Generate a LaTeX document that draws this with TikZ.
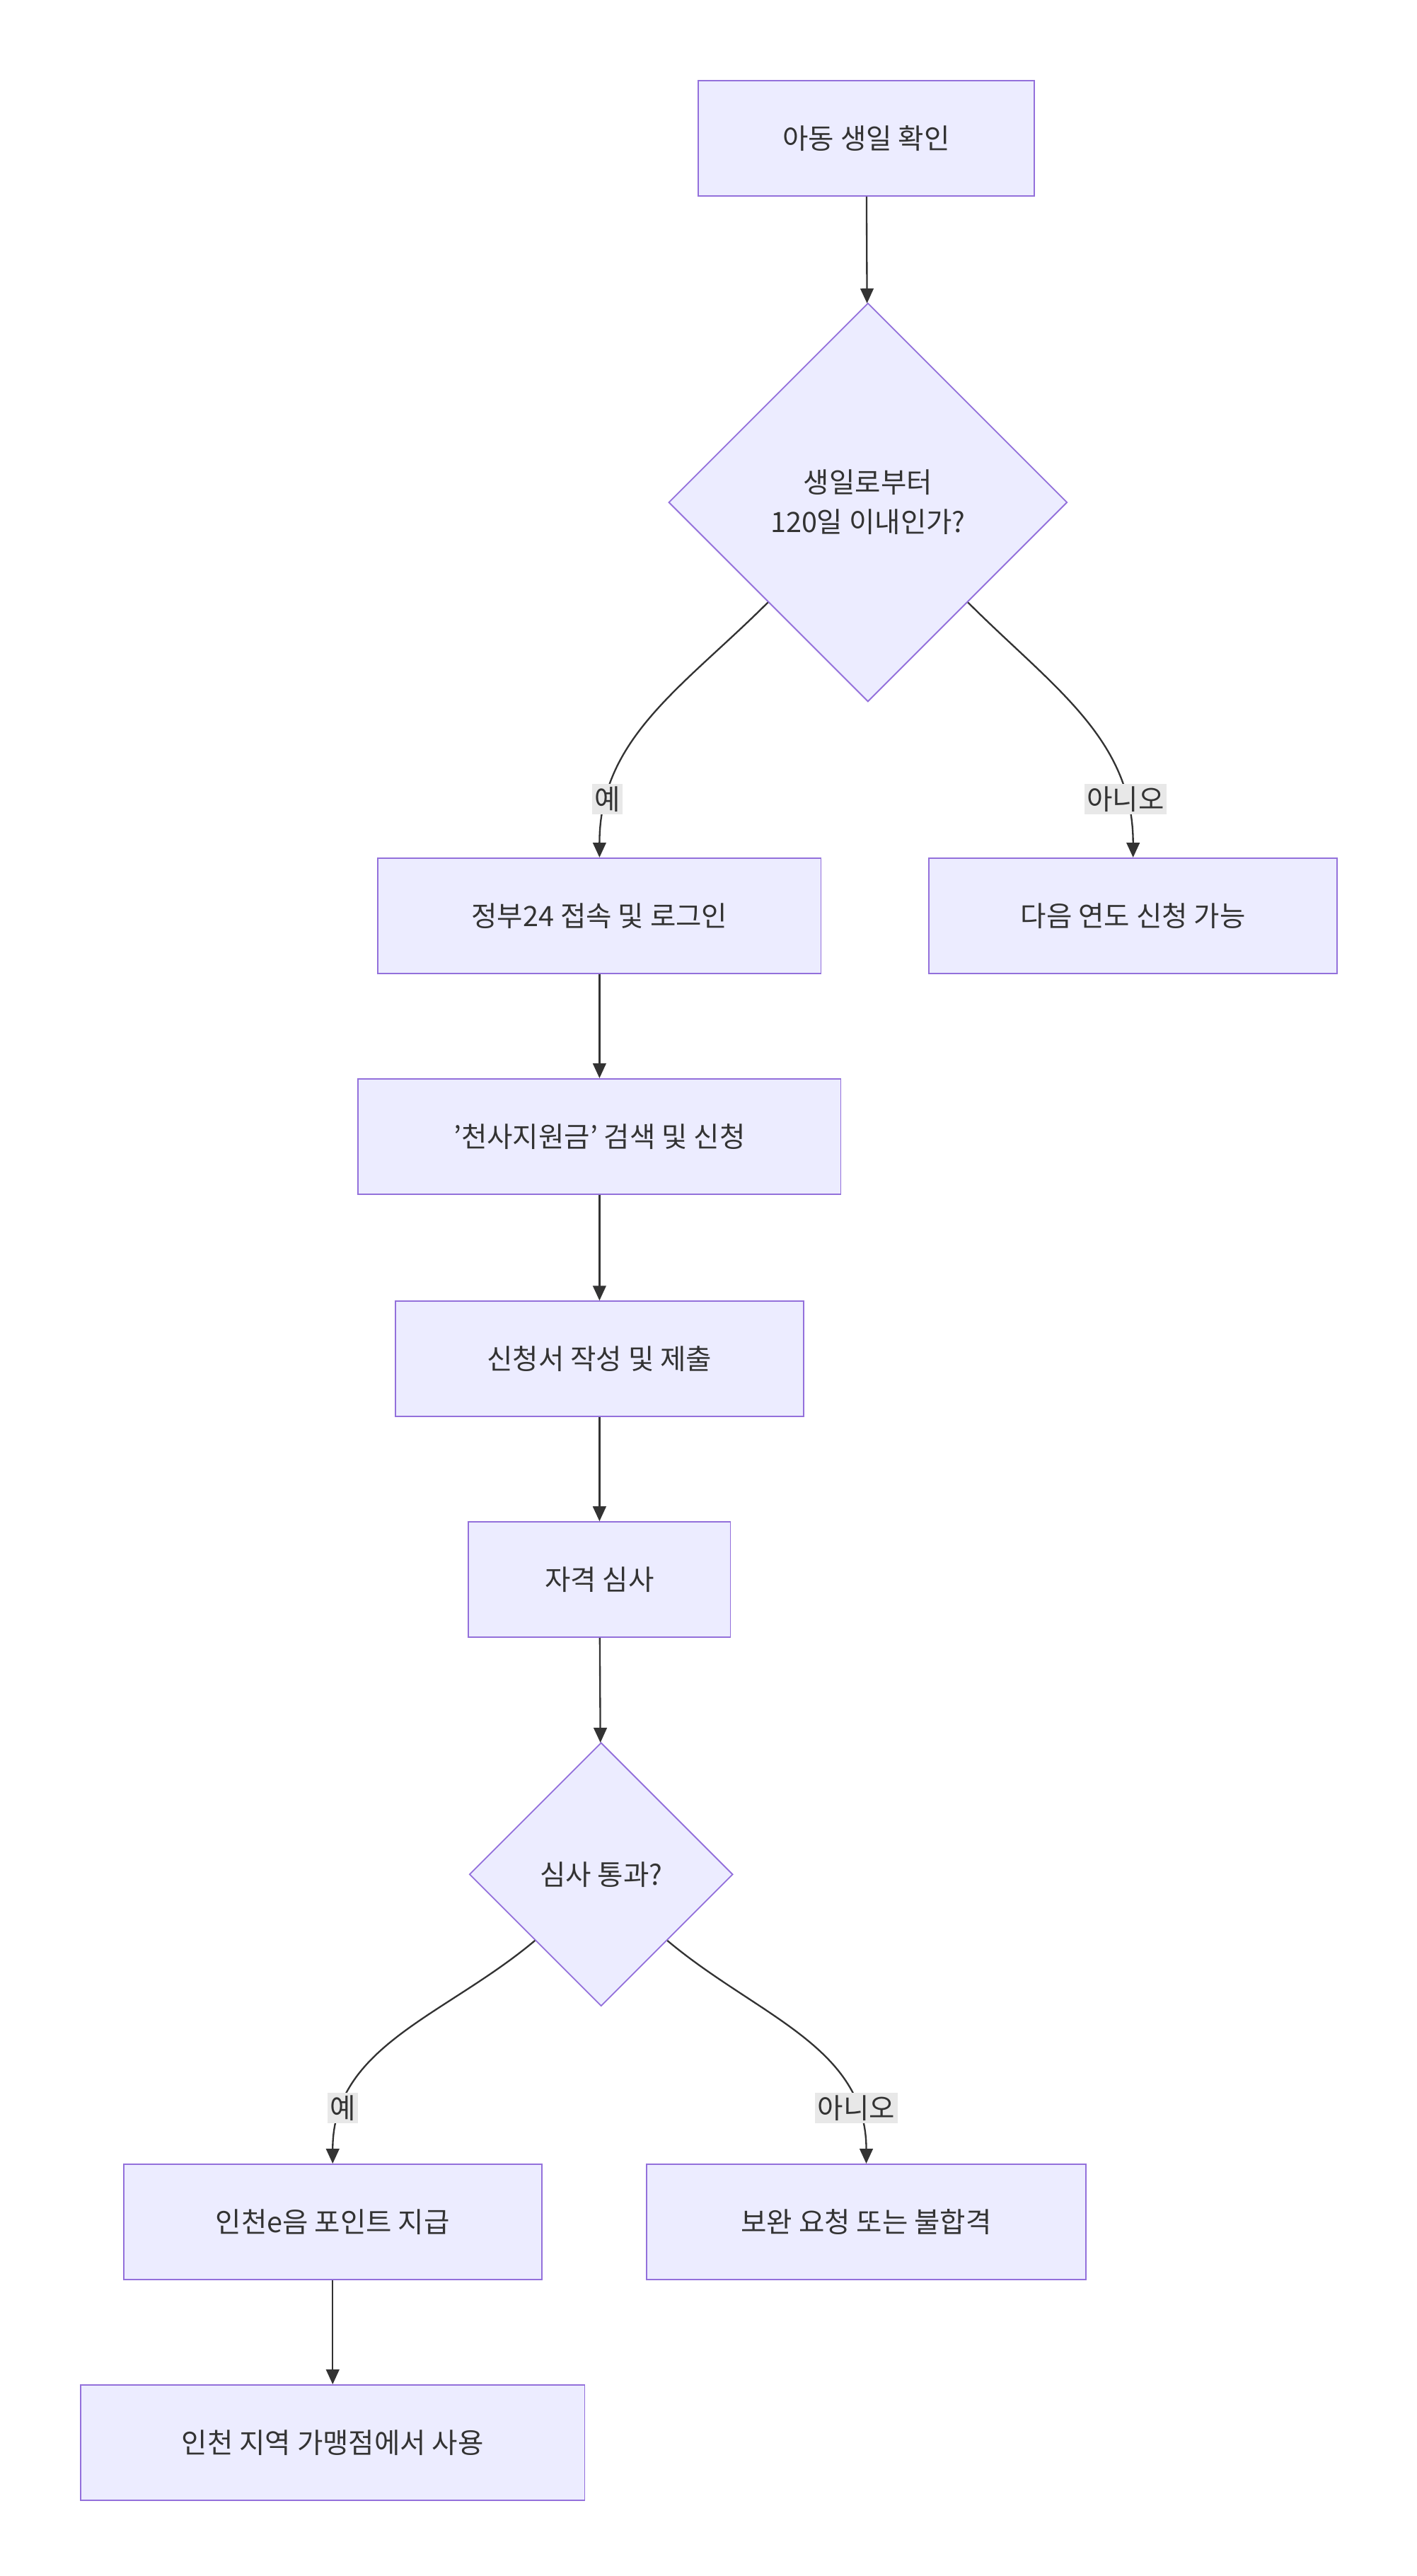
\documentclass[tikz,border=0pt]{standalone}
\usepackage{fontspec}
\setmainfont{Noto Sans CJK KR}
\usetikzlibrary{shapes.geometric,arrows.meta}
\definecolor{boxfill}{HTML}{ECECFF}
\definecolor{boxline}{HTML}{9370DB}
\definecolor{arrline}{HTML}{333333}
\definecolor{lblfill}{HTML}{E8E8E8}
\begin{document}
\begin{tikzpicture}[x=1pt,y=1pt,
  box/.style={draw=boxline,fill=boxfill,line width=0.8pt,minimum height=70pt,inner sep=0pt,font=\fontsize{17}{22}\selectfont,text=arrline},
  dia/.style={diamond,draw=boxline,fill=boxfill,line width=0.8pt,inner sep=0pt,align=center,font=\fontsize{17}{24}\selectfont,text=arrline},
  arr/.style={draw=arrline,line width=1pt,-{Triangle[length=9pt,width=8pt]}},
  lbl/.style={fill=lblfill,inner sep=1.5pt,font=\fontsize{17}{22}\selectfont,text=arrline}]
\useasboundingbox (0,0) rectangle (860,-1564);

% Nodes
\node[box,minimum width=204pt] (check) at (526,-84) {아동 생일 확인};
\node[dia,minimum width=242pt,minimum height=242pt] (within) at (527,-305) {생일로부터\\120일 이내인가?};
\node[box,minimum width=269pt] (login) at (364,-556) {정부24 접속 및 로그인};
\node[box,minimum width=248pt] (nextyear) at (688,-556) {다음 연도 신청 가능};
\node[box,minimum width=293pt] (search) at (364,-690) {'천사지원금' 검색 및 신청};
\node[box,minimum width=248pt] (form) at (364,-825) {신청서 작성 및 제출};
\node[box,minimum width=159pt] (review) at (364,-959) {자격 심사};
\node[dia,minimum width=160pt,minimum height=160pt] (pass) at (365,-1138) {심사 통과?};
\node[box,minimum width=254pt] (points) at (202,-1349) {인천e음 포인트 지급};
\node[box,minimum width=267pt] (reject) at (526,-1349) {보완 요청 또는 불합격};
\node[box,minimum width=306pt] (use) at (202,-1483) {인천 지역 가맹점에서 사용};

% Connectors
\draw[arr] (check) -- (within);
\draw[arr] (within.south west) to[out=-135,in=90] node[lbl,pos=0.82]{예} (login.north);
\draw[arr] (within.south east) to[out=-45,in=90] node[lbl,pos=0.82]{아니오} (nextyear.north);
\draw[arr] (login) -- (search);
\draw[arr] (search) -- (form);
\draw[arr] (form) -- (review);
\draw[arr] (review) -- (pass);
\draw[arr] (pass.south west) to[out=-140,in=90] node[lbl,pos=0.82]{예} (points.north);
\draw[arr] (pass.south east) to[out=-40,in=90] node[lbl,pos=0.82]{아니오} (reject.north);
\draw[arr] (points) -- (use);
\end{tikzpicture}
\end{document}
